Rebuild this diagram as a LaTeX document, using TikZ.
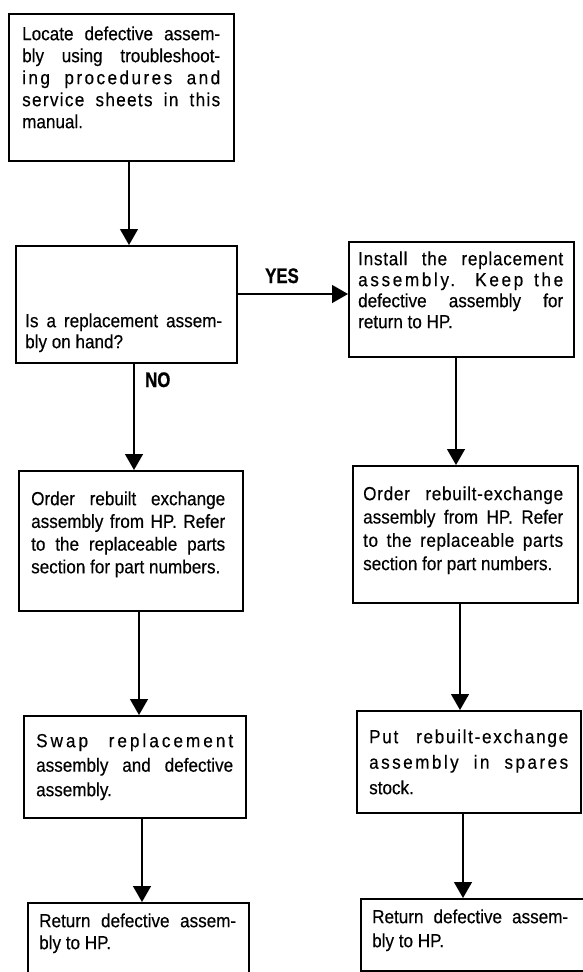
\documentclass[tikz,border=0pt]{standalone}
\usepackage{fontspec}
\setmainfont[FakeStretch=0.9,FakeBold=0.35]{Liberation Sans}
\newfontfamily\lblfont[FakeStretch=0.8,FakeBold=0.8]{Liberation Sans Bold}
\usetikzlibrary{arrows.meta}
\newcommand{\lsp}[2]{{\addfontfeature{LetterSpace=#1}#2}}
\tikzset{
  box/.style={draw, line width=1.6pt, inner sep=0pt, anchor=north west},
  txt/.style={anchor=north west, inner sep=0pt, align=justify,
    font=\fontsize{19}{#1}\selectfont,
    execute at begin node={\parindent=0pt\tolerance=10000\hbadness=10000\rule{0pt}{14pt}}},
  lbl/.style={anchor=base west, inner sep=0pt, font=\lblfont\fontsize{21}{24}\selectfont},
  arr/.style={line width=1.4pt, -{Triangle[width=18pt,length=16pt]}}
}
\begin{document}
\begin{tikzpicture}[x=1pt,y=-1pt]
\useasboundingbox (0,0) rectangle (582,972);
\fill[white] (0,0) rectangle (582,972);
% boxes
\node[box, minimum width=225pt, minimum height=147pt] (b1) at (8,13) {};
\node[box, minimum width=221pt, minimum height=117pt] (b2) at (15,245) {};
\node[box, minimum width=225pt, minimum height=115pt] (b3) at (348,241) {};
\node[box, minimum width=224pt, minimum height=140pt] (b4) at (18,470) {};
\node[box, minimum width=225pt, minimum height=137pt] (b5) at (352,465) {};
\node[box, minimum width=222pt, minimum height=102pt] (b6) at (23,715) {};
\node[box, minimum width=224pt, minimum height=102pt] (b7) at (356,710) {};
\node[box, minimum width=221pt, minimum height=85pt] (b8) at (27,902) {};
\node[box, minimum width=232pt, minimum height=72pt] (b9) at (360,898) {};
% texts
\node[txt=22, text width=198pt] (t1) at (22,26) {Locate defective assem-\linebreak bly using troubleshoot-\linebreak \lsp{13}{ing procedures and}\linebreak \lsp{7}{service sheets in this}\linebreak manual.};
\node[txt=21, text width=197pt] (t2) at (25,313) {Is a replacement assem-\linebreak bly on hand?};
\node[txt=21, text width=205pt] (t3) at (358,251) {\lsp{4}{Install the replacement}\linebreak \lsp{14}{assembly. Keep the}\linebreak defective assembly for\linebreak return to HP.};
\node[txt=22.7, text width=194pt] (t4) at (31,491) {Order rebuilt exchange\linebreak assembly from HP. Refer\linebreak to the replaceable parts\linebreak section for part numbers.};
\node[txt=23.3, text width=200pt] (t5) at (363,486) {\lsp{4}{Order rebuilt-exchange}\linebreak assembly from HP. Refer\linebreak \lsp{3}{to the replaceable parts}\linebreak section for part numbers.};
\node[txt=24.5, text width=197pt] (t6) at (36,733) {\lsp{16}{Swap replacement}\linebreak assembly and defective\linebreak assembly.};
\node[txt=25.5, text width=199pt] (t7) at (369,729) {\lsp{9}{Put rebuilt-exchange}\linebreak \lsp{13}{assembly in spares}\linebreak stock.};
\node[txt=22, text width=197pt] (t8) at (39,913) {Return defective assem-\linebreak bly to HP.};
\node[txt=24, text width=196pt] (t9) at (372,909) {Return defective assem-\linebreak bly to HP.};
% labels
\node[lbl] (yes) at (265,283) {YES};
\node[lbl] (no) at (145,387) {NO};
% connector positions
\coordinate (a1) at (129,0);
\coordinate (a2) at (134,0);
\coordinate (a3) at (139,0);
\coordinate (a4) at (142,0);
\coordinate (a5) at (456,0);
\coordinate (a6) at (460,0);
\coordinate (a7) at (463,0);
\coordinate (yy) at (0,294);
% connectors
\draw[arr] (b1.south -| a1) -- (b2.north -| a1);
\draw[arr] (b2.east |- yy) -- (b3.west |- yy);
\draw[arr] (b2.south -| a2) -- (b4.north -| a2);
\draw[arr] (b4.south -| a3) -- (b6.north -| a3);
\draw[arr] (b6.south -| a4) -- (b8.north -| a4);
\draw[arr] (b3.south -| a5) -- (b5.north -| a5);
\draw[arr] (b5.south -| a6) -- (b7.north -| a6);
\draw[arr] (b7.south -| a7) -- (b9.north -| a7);
\end{tikzpicture}
\end{document}
